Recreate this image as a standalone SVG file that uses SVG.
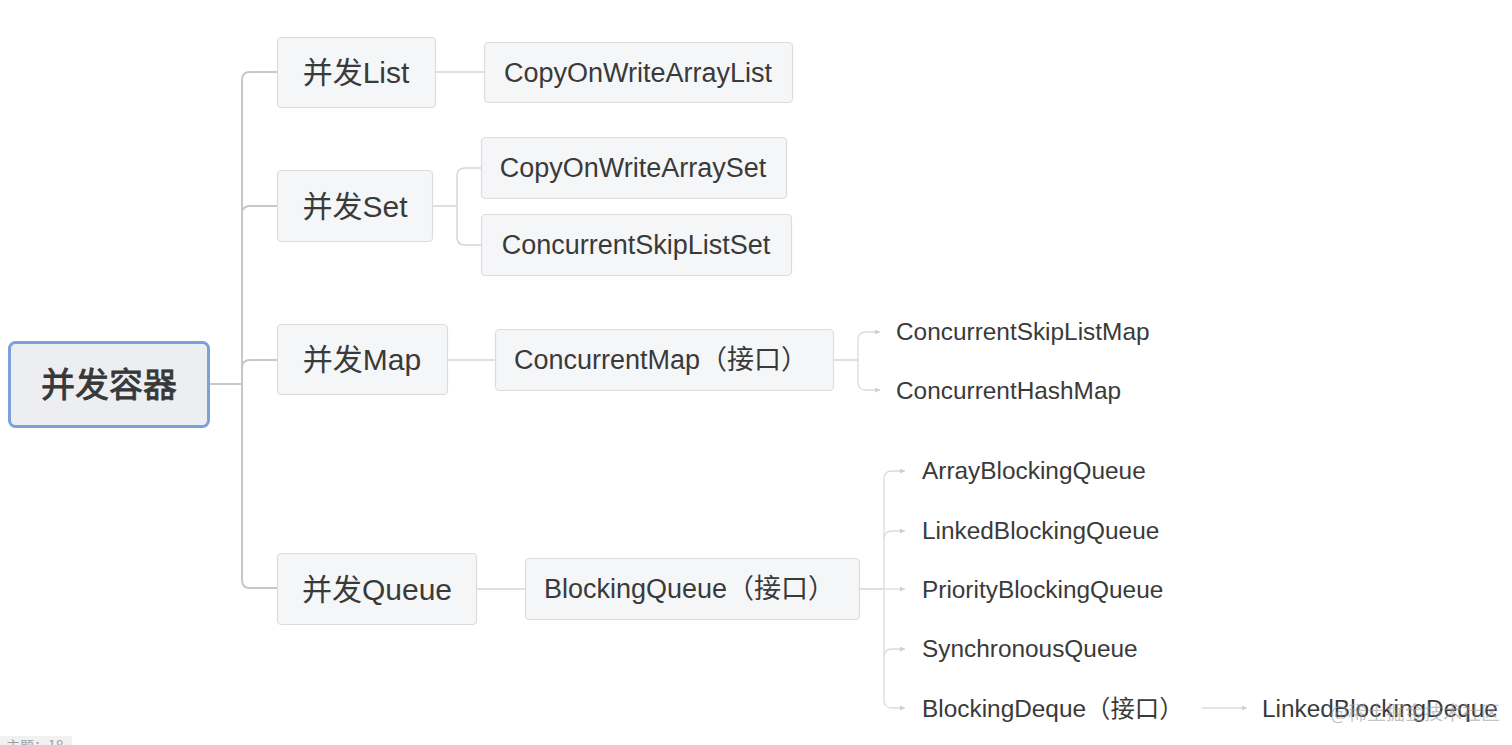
<svg xmlns="http://www.w3.org/2000/svg" width="1512" height="745" viewBox="0 0 1512 745">
<defs>
<style>
.box{fill:#f5f6f8;stroke:#dcdcdc;stroke-width:1.2}
.t{font-family:"Liberation Sans","Noto Sans CJK SC",sans-serif;fill:#3a3a3a}
.t1{font-size:30px}
.t2{font-size:27px}
.t3{font-size:24.4px}
.trunk{fill:none;stroke:#c8c8c8;stroke-width:2}
.thin{fill:none;stroke:#d6d6d6;stroke-width:1.5}
.leaf{fill:none;stroke:#dcdcdc;stroke-width:1.3}
</style>
<marker id="arr" viewBox="0 0 6 6" refX="6" refY="3" markerWidth="5" markerHeight="5" markerUnits="userSpaceOnUse" orient="auto">
<path d="M0,0 L6,3 L0,6 z" fill="#cfcfcf"/>
</marker>
</defs>
<rect width="1512" height="745" fill="#ffffff"/>

<g id="connectors">
<path class="trunk" d="M209,384 H242"/>
<path class="trunk" d="M277,72 H250 Q242,72 242,80 V580 Q242,588 250,588 H277"/>
<path class="trunk" d="M242,214 Q242,206 250,206 H277"/>
<path class="trunk" d="M242,368 Q242,360 250,360 H277"/>
<path class="thin" d="M435,72 H484"/>
<path class="thin" d="M432,206 H457"/>
<path class="thin" d="M481,168 H465 Q457,168 457,176 V237 Q457,245 465,245 H481"/>
<path class="thin" d="M447,360 H495"/>
<path class="thin" d="M476,589 H525"/>
<path class="thin" d="M833,360 H858"/>
<path class="leaf" d="M858,340 Q858,332 866,332 H880" marker-end="url(#arr)"/>
<path class="leaf" d="M858,340 V382 Q858,390 866,390 H880" marker-end="url(#arr)"/>
<path class="thin" d="M859,589 H884"/>
<path class="leaf" d="M884,479 Q884,471 892,471 H905" marker-end="url(#arr)"/>
<path class="leaf" d="M884,479 V700 Q884,708 892,708 H905" marker-end="url(#arr)"/>
<path class="leaf" d="M884,539 Q884,531 892,531 H905" marker-end="url(#arr)"/>
<path class="leaf" d="M884,589 H905" marker-end="url(#arr)"/>
<path class="leaf" d="M884,657 Q884,649 892,649 H905" marker-end="url(#arr)"/>
<path class="leaf" d="M1202,708 H1247" marker-end="url(#arr)"/>
</g>

<g id="root">
<rect x="9.5" y="342.5" width="199" height="84" rx="6" fill="#eceef1" stroke="#7aa1da" stroke-width="3"/>
<text class="t" x="109" y="397" font-size="34" text-anchor="middle" fill="#333" stroke="#333" stroke-width="0.8">并发容器</text>
</g>

<g id="n-list">
<rect class="box" x="277.5" y="37.5" width="158" height="70" rx="4"/>
<text class="t t1" x="356" y="83" text-anchor="middle">并发List</text>
</g>
<g id="n-set">
<rect class="box" x="277.5" y="170.5" width="155" height="71" rx="4"/>
<text class="t t1" x="355" y="217" text-anchor="middle">并发Set</text>
</g>
<g id="n-map">
<rect class="box" x="277.5" y="324.5" width="170" height="70" rx="4"/>
<text class="t t1" x="362" y="370" text-anchor="middle">并发Map</text>
</g>
<g id="n-queue">
<rect class="box" x="277.5" y="553.5" width="199" height="71" rx="4"/>
<text class="t t1" x="377" y="600" text-anchor="middle">并发Queue</text>
</g>

<g id="n-cowal">
<rect class="box" x="484.5" y="42.5" width="308" height="60" rx="4"/>
<text class="t t2" x="638" y="82" text-anchor="middle">CopyOnWriteArrayList</text>
</g>
<g id="n-cowas">
<rect class="box" x="481.5" y="137.5" width="305" height="61" rx="4"/>
<text class="t t2" x="633" y="177" text-anchor="middle">CopyOnWriteArraySet</text>
</g>
<g id="n-csls">
<rect class="box" x="481.5" y="214.5" width="310" height="61" rx="4"/>
<text class="t t2" x="636" y="254" text-anchor="middle">ConcurrentSkipListSet</text>
</g>
<g id="n-cmap">
<rect class="box" x="495.5" y="329.5" width="338" height="61" rx="4"/>
<text class="t t2" x="514" y="369">ConcurrentMap（接口）</text>
</g>
<g id="n-bq">
<rect class="box" x="525.5" y="558.5" width="334" height="61" rx="4"/>
<text class="t t2" x="544" y="598">BlockingQueue（接口）</text>
</g>

<g id="n-cslm"><text class="t t3" x="896" y="340">ConcurrentSkipListMap</text></g>
<g id="n-chm"><text class="t t3" x="896" y="399">ConcurrentHashMap</text></g>
<g id="n-abq"><text class="t t3" x="922" y="479">ArrayBlockingQueue</text></g>
<g id="n-lbq"><text class="t t3" x="922" y="539">LinkedBlockingQueue</text></g>
<g id="n-pbq"><text class="t t3" x="922" y="598">PriorityBlockingQueue</text></g>
<g id="n-sq"><text class="t t3" x="922" y="657">SynchronousQueue</text></g>
<g id="n-bd"><text class="t t3" x="922" y="717">BlockingDeque（接口）</text></g>
<g id="n-lbd"><text class="t t3" x="1262" y="717">LinkedBlockingDeque</text></g>

<g id="overlay">
<text x="1330" y="720" font-family="'Noto Sans CJK SC',sans-serif" font-size="19" fill="#9a9a9a" fill-opacity="0.6">@稀土掘金技术社区</text>
<rect x="0" y="736" width="72" height="12" fill="#f1f1f1"/>
<text x="6" y="751" font-family="'Noto Sans CJK SC',sans-serif" font-size="14" fill="#a0a0a0">主题：18</text>
</g>
</svg>
